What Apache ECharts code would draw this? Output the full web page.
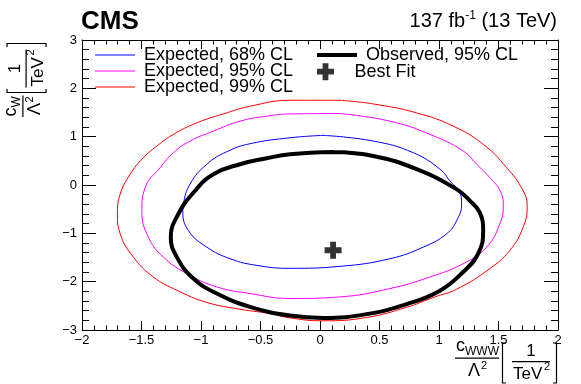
<!DOCTYPE html>
<html><head><meta charset="utf-8">
<script src="https://cdn.jsdelivr.net/npm/echarts@6/dist/echarts.min.js"></script>
<style>html,body{margin:0;padding:0;background:#fff}#c{width:581px;height:384px}</style>
</head><body><div id="c"></div>
<script>
const FONT = '"Liberation Sans", Arial, Helvetica, sans-serif';
const xMin = -2, xMax = 2, xStep = 0.5;
const yMin = -3, yMax = 3, yStep = 1;
const names = ['Expected, 68% CL', 'Expected, 95% CL', 'Expected, 99% CL', 'Observed, 95% CL', 'Best Fit'];

const expected68 = [[0.028,1.027],[-0.252,0.977],[-0.588,0.854],[-0.783,0.689],[-0.951,0.430],[-1.092,0.019],[-1.148,-0.393],[-1.153,-0.531],[-1.106,-0.942],[-0.951,-1.286],[-0.756,-1.525],[-0.531,-1.663],[-0.252,-1.724],[0.168,-1.683],[0.588,-1.525],[0.867,-1.286],[1.064,-1.010],[1.148,-0.737],[1.190,-0.393],[1.170,-0.130],[1.100,0.060],[1.008,0.327],[0.783,0.669],[0.448,0.909],[0.028,1.027]];

const expected95 = [[0.168,1.479],[-0.252,1.471],[-0.448,1.424],[-0.672,1.321],[-0.896,1.115],[-1.092,0.909],[-1.232,0.669],[-1.343,0.360],[-1.469,-0.051],[-1.497,-0.531],[-1.442,-1.080],[-1.316,-1.492],[-1.119,-1.833],[-0.867,-2.109],[-0.588,-2.245],[-0.252,-2.348],[0.168,-2.315],[0.588,-2.142],[0.924,-1.903],[1.203,-1.628],[1.400,-1.286],[1.511,-0.805],[1.540,-0.430],[1.520,-0.150],[1.427,0.154],[1.316,0.430],[1.203,0.704],[0.924,1.047],[0.588,1.321],[0.168,1.479]];

const expected99 = [[0.168,1.753],[-0.252,1.753],[-0.588,1.630],[-0.812,1.471],[-1.035,1.286],[-1.232,1.047],[-1.371,0.807],[-1.484,0.566],[-1.595,0.224],[-1.679,-0.187],[-1.702,-0.599],[-1.679,-1.010],[-1.568,-1.492],[-1.400,-1.903],[-1.203,-2.177],[-0.951,-2.430],[-0.672,-2.570],[-0.420,-2.660],[-0.252,-2.750],[0.025,-2.810],[0.392,-2.740],[0.728,-2.530],[0.960,-2.320],[1.148,-2.156],[1.427,-1.730],[1.595,-1.354],[1.707,-0.874],[1.741,-0.450],[1.707,-0.119],[1.568,0.360],[1.371,0.842],[1.119,1.218],[0.812,1.492],[0.448,1.677],[0.168,1.753]];

const observed95 = [[0.112,0.683],[-0.252,0.636],[-0.448,0.553],[-0.672,0.430],[-0.896,0.224],[-1.050,-0.119],[-1.195,-0.620],[-1.254,-1.080],[-1.203,-1.492],[-1.064,-1.936],[-0.867,-2.245],[-0.588,-2.521],[-0.252,-2.702],[0.028,-2.753],[0.392,-2.671],[0.728,-2.465],[1.008,-2.187],[1.203,-1.800],[1.329,-1.422],[1.371,-0.942],[1.343,-0.572],[1.259,-0.325],[1.150,-0.090],[0.812,0.327],[0.448,0.601],[0.112,0.683]];

const bestFit = [[0.11, -1.35]];

const PLUS = 'path://M3.3,0H6.7V3.3H10V6.7H6.7V10H3.3V6.7H0V3.3H3.3Z';
const fmt = v => String(v).replace('-', '\u2212');

function xAx(pos, show) {
  return {type:'value', min:xMin, max:xMax, interval:xStep, position:pos,
    axisLine:{show:true, onZero:false, lineStyle:{color:'#000', width:1}},
    axisTick:{show:true, inside:true, length:9, lineStyle:{color:'#000', width:1}},
    minorTick:{show:true, splitNumber:5, length:4.5, lineStyle:{color:'#000', width:1}},
    splitLine:{show:false}, minorSplitLine:{show:false},
    axisLabel:{show:show, color:'#000', fontSize:13, fontFamily:FONT, margin:4, formatter:fmt, showMinLabel:true, showMaxLabel:true}};
}
function yAx(pos, show) {
  return {type:'value', min:yMin, max:yMax, interval:yStep, position:pos,
    axisLine:{show:true, onZero:false, lineStyle:{color:'#000', width:1}},
    axisTick:{show:true, inside:true, length:14, lineStyle:{color:'#000', width:1}},
    minorTick:{show:true, splitNumber:5, length:7, lineStyle:{color:'#000', width:1}},
    splitLine:{show:false}, minorSplitLine:{show:false},
    axisLabel:{show:show, color:'#000', fontSize:13, fontFamily:FONT, margin:5, formatter:fmt, showMinLabel:true, showMaxLabel:true}};
}
function leg(name, left, top, h, icon) {
  return {data:[{name:name, icon:icon}], left:left, top:top, orient:'horizontal', itemWidth:40, itemHeight:h,
    padding:0, itemGap:0, selectedMode:false, itemStyle:{borderWidth:0},
    textStyle:{fontSize:18, fontFamily:FONT, color:'#000', padding:[0,0,5,4]}};
}
function t(text, x, base, size, align) {
  return {type:'text', silent:true, style:{text:text, x:x, y:base - 0.35*size, font:size + 'px ' + FONT, fill:'#000', textAlign:align || 'left', textVerticalAlign:'middle'}};
}
function bar(x, y, w, h) { return {type:'rect', silent:true, shape:{x:x, y:y, width:w, height:h}, style:{fill:'#000'}}; }
function brL(x, y1, y2) { return {type:'polyline', silent:true, shape:{points:[[x+3.5,y1],[x,y1],[x,y2],[x+3.5,y2]]}, style:{stroke:'#000', lineWidth:1.2, fill:null}}; }
function brR(x, y1, y2) { return {type:'polyline', silent:true, shape:{points:[[x-3.5,y1],[x,y1],[x,y2],[x-3.5,y2]]}, style:{stroke:'#000', lineWidth:1.2, fill:null}}; }

const xTitle = [
  t('c', 456, 352, 18), t('WWW', 465, 355.5, 12), bar(455, 357.6, 44, 1.2),
  t('\u039B', 468, 377.5, 18), t('2', 481, 370, 11),
  brL(502.5, 343, 383),
  t('1', 531, 357, 17, 'center'), bar(512, 361, 38, 1.2),
  t('TeV', 513, 380.5, 17), t('2', 544, 371, 11),
  brR(556.5, 343, 383)
];
const yTitle = {type:'group', x:0, y:117, rotation:Math.PI/2, children:[
  t('c', 0.5, 17, 18), t('W', 9.5, 20.5, 12), bar(0, 22.3, 21.5, 1.2),
  t('\u039B', 2, 41, 18), t('2', 14.5, 33.5, 11),
  brL(24.5, 7, 46),
  t('1', 48.5, 21.5, 17, 'center'), bar(29.5, 25.5, 38, 1.2),
  t('TeV', 30.5, 44, 17), t('2', 61.5, 35, 11),
  brR(73.5, 7, 46)
]};

function lineSeries(name, data, color, width, z) {
  return {name:name, type:'line', data:data, xAxisIndex:0, yAxisIndex:0, showSymbol:false, symbol:'none',
    smooth:0.45, lineStyle:{color:color, width:width, join:'round', cap:'round'}, itemStyle:{color:color}, z:z, silent:true};
}

const chart = echarts.init(document.getElementById('c'), null, {renderer:'canvas'});
chart.setOption({
  animation:false,
  backgroundColor:'#fff',
  title:[
    {text:'CMS', left:81, top:8.7, padding:0, textStyle:{fontSize:26, fontWeight:'bold', color:'#000', fontFamily:FONT}},
    {text:'{a|137 fb}{s|-1}{a| (13 TeV)}', right:24, top:10, padding:0,
     textStyle:{fontWeight:'normal', rich:{
       a:{fontSize:20, fontFamily:FONT, color:'#000', lineHeight:22},
       s:{fontSize:12, fontFamily:FONT, color:'#000', lineHeight:14, verticalAlign:'top'}}}}
  ],
  grid:{left:82, right:23, top:40, bottom:54, containLabel:false},
  xAxis:[xAx('bottom', true), xAx('top', false)],
  yAxis:[yAx('left', true), yAx('right', false)],
  legend:[
    leg(names[0], 95, 46, 1.2, 'rect'),
    leg(names[1], 95, 62, 1.2, 'rect'),
    leg(names[2], 95, 78, 1.2, 'rect'),
    leg(names[3], 317, 46, 4, 'rect'),
    leg(names[4], 317, 62.7, 17, PLUS)
  ],
  series:[
    lineSeries(names[0], expected68, '#0000ff', 1, 2),
    lineSeries(names[1], expected95, '#ff00ff', 1, 2),
    lineSeries(names[2], expected99, '#ff0000', 1, 2),
    lineSeries(names[3], observed95, '#000000', 4, 3),
    {name:names[4], type:'scatter', data:bestFit, symbol:PLUS, symbolSize:17, itemStyle:{color:'#000'}, z:4, silent:true}
  ],
  graphic:[{type:'group', children:xTitle}, yTitle]
});
</script></body></html>
